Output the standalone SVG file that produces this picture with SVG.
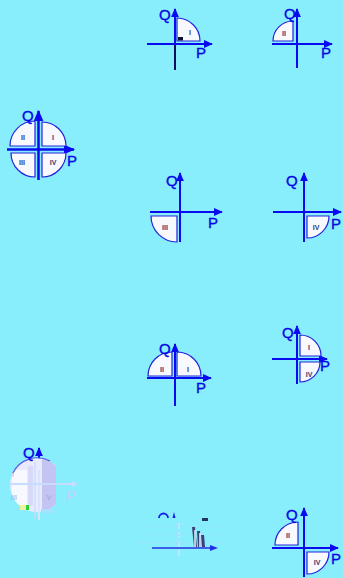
<svg xmlns="http://www.w3.org/2000/svg" width="343" height="578" viewBox="0 0 343 578">
<style>
.ax{stroke:#0a0af0;stroke-width:2;fill:none}
.q{fill:#f8f8ff;stroke:#2424dc;stroke-width:1.2}
.t{font-family:"Liberation Sans",Arial,sans-serif;font-size:15px;fill:#0606e6;stroke:#0606e6;stroke-width:0.35}
.s{font-family:"Liberation Sans",Arial,sans-serif;font-size:7px;font-weight:bold;fill:#3a3a70;text-anchor:middle}
</style>
<defs>
<marker id="ar" viewBox="0 0 10 10" refX="9" refY="5" markerWidth="4.6" markerHeight="4" orient="auto" markerUnits="strokeWidth" preserveAspectRatio="none">
<path d="M0,0 L10,5 L0,10 Z" fill="#0a0af0"/>
</marker>
<clipPath id="c8"><rect x="0" y="440" width="56" height="80"/></clipPath>
<clipPath id="c8b"><circle cx="37" cy="485" r="27"/></clipPath>
</defs>
<rect width="343" height="578" fill="#88eefc"/>

<g id="connectors">
<line class="ax" x1="175" y1="44" x2="175" y2="9" marker-end="url(#ar)"/>
<line x1="175" y1="44" x2="175" y2="70" stroke="#101060" stroke-width="2"/>
<line class="ax" x1="147" y1="44" x2="212" y2="44" marker-end="url(#ar)"/>
<line class="ax" x1="297" y1="68" x2="297" y2="9" marker-end="url(#ar)"/>
<line class="ax" x1="272" y1="44" x2="332" y2="44" marker-end="url(#ar)"/>
<line class="ax" x1="38.5" y1="180" x2="38.5" y2="111" marker-end="url(#ar)" style="stroke-width:2.5"/>
<line class="ax" x1="7" y1="149.5" x2="74" y2="149.5" marker-end="url(#ar)" style="stroke-width:2.5"/>
<line class="ax" x1="180" y1="242" x2="180" y2="173" marker-end="url(#ar)"/>
<line class="ax" x1="150" y1="212" x2="222" y2="212" marker-end="url(#ar)"/>
<line class="ax" x1="304" y1="242" x2="304" y2="173" marker-end="url(#ar)"/>
<line class="ax" x1="273" y1="212" x2="341" y2="212" marker-end="url(#ar)"/>
<line class="ax" x1="175" y1="406" x2="175" y2="344" marker-end="url(#ar)"/>
<line class="ax" x1="147" y1="378" x2="211" y2="378" marker-end="url(#ar)"/>
<line class="ax" x1="297" y1="384" x2="297" y2="326" marker-end="url(#ar)"/>
<line class="ax" x1="272" y1="359" x2="327" y2="359" marker-end="url(#ar)"/>
<line class="ax" x1="39" y1="470" x2="39" y2="448" marker-end="url(#ar)"/>
<line class="ax" x1="304" y1="577" x2="304" y2="508" marker-end="url(#ar)"/>
<line class="ax" x1="272" y1="548" x2="338" y2="548" marker-end="url(#ar)"/>
</g>

<g id="d1">
<path class="q" d="M177,41 V18 A23,23 0 0 1 200,41 Z"/>
<rect x="178" y="37" width="5" height="3.5" fill="#101030"/>
<text class="s" x="190" y="35">I</text>
<text class="t" x="159" y="20">Q</text>
<text class="t" x="196" y="58">P</text>
</g>

<g id="d2">
<path class="q" d="M293,41 H273 A20,20 0 0 1 293,21 Z"/>
<text class="s" x="284" y="36">II</text>
<text class="t" x="284" y="19">Q</text>
<text class="t" x="321" y="58">P</text>
</g>

<g id="d3">
<path class="q" d="M42,146 V122 A24,24 0 0 1 66,146 Z"/>
<path class="q" d="M35,146 H10 A25,25 0 0 1 35,121 Z"/>
<path class="q" d="M35,153 V177 A24,24 0 0 1 11,153 Z"/>
<path class="q" d="M42,153 H66 A24,24 0 0 1 42,177 Z"/>
<text class="s" x="23" y="140">II</text>
<text class="s" x="53" y="140">I</text>
<text class="s" x="22" y="165">III</text>
<text class="s" x="53" y="165">IV</text>
<text class="t" x="22" y="121">Q</text>
<text class="t" x="67" y="166">P</text>
</g>

<g id="d4">
<path class="q" d="M177,216 V242 A26,26 0 0 1 151,216 Z"/>
<text class="s" x="165" y="230">III</text>
<text class="t" x="166" y="186">Q</text>
<text class="t" x="208" y="228">P</text>
</g>

<g id="d5">
<path class="q" d="M307,216 H329 A22,22 0 0 1 307,238 Z"/>
<text class="s" x="316" y="230">IV</text>
<text class="t" x="286" y="186">Q</text>
<text class="t" x="331" y="229">P</text>
</g>

<g id="d6">
<path class="q" d="M172,376 H148 A24,24 0 0 1 172,352 Z"/>
<path class="q" d="M177,376 V352 A24,24 0 0 1 201,376 Z"/>
<text class="s" x="162" y="372">II</text>
<text class="s" x="188" y="372">I</text>
<text class="t" x="159" y="354">Q</text>
<text class="t" x="196" y="393">P</text>
</g>

<g id="d7">
<path class="q" d="M300,356 V335 A21,21 0 0 1 321,356 Z"/>
<path class="q" d="M300,362 H320 A20,20 0 0 1 300,382 Z"/>
<text class="s" x="309" y="350">I</text>
<text class="s" x="309" y="377">IV</text>
<text class="t" x="282" y="338">Q</text>
<text class="t" x="320" y="371">P</text>
</g>

<g id="d8">
<g clip-path="url(#c8)">
<g clip-path="url(#c8b)">
<rect x="8" y="456" width="60" height="60" fill="#eaeafe"/>
<rect x="42" y="456" width="16" height="60" fill="#c4c4f2"/>
<rect x="12" y="470" width="15" height="36" fill="#f8f8ff"/>
<rect x="28" y="466" width="5" height="40" fill="#d8d8f8"/>
</g>
<path d="M13,473 A27,27 0 0 1 50,461" fill="none" stroke="#5858e0" stroke-width="1.2"/>
</g>
<line x1="39" y1="470" x2="39" y2="520" stroke="#d4e6ff" stroke-width="2"/>
<line x1="35" y1="462" x2="35" y2="518" stroke="#c8dcff" stroke-width="1.5"/>
<line x1="9" y1="484" x2="72" y2="484" stroke="#c8dcff" stroke-width="2"/>
<path d="M72,481 L78,484 L72,487 Z" fill="#c8dcff"/>
<rect x="20" y="505" width="8" height="5" fill="#f0f0a0"/>
<rect x="26" y="505" width="3" height="5" fill="#30d030"/>
<rect x="41" y="509" width="13" height="4" fill="#a8e0ff"/>
<text class="s" x="14" y="500" style="fill:#a0a0d8;font-weight:normal">III</text>
<text class="s" x="49" y="500" style="fill:#a0a0d8;font-weight:normal">V</text>
<text class="s" x="13" y="477" style="fill:#a0a0d8;font-weight:normal">I</text>
<text class="t" x="23" y="458">Q</text>
<text class="t" x="66" y="501" style="fill:#c0d0ff;stroke:none">P</text>
</g>

<g id="d9" opacity="0.9">
<path d="M159,518 A4.5,4.5 0 0 1 168,518" fill="none" stroke="#0a0af0" stroke-width="1.8"/>
<path d="M172.5,518 L174,512 L175.5,518 Z" fill="#0a0af0"/>
<line x1="179" y1="523" x2="179" y2="556" stroke="#d0e8ff" stroke-width="1.5" stroke-dasharray="6 3"/>
<line x1="176" y1="523" x2="176" y2="552" stroke="#b8d8ff" stroke-width="1" stroke-dasharray="4 4"/>
<line x1="152" y1="548" x2="212" y2="548" stroke="#1a1ae0" stroke-width="1.5"/>
<path d="M210,545 L218,548 L210,551 Z" fill="#1a1ae0"/>
<line x1="137" y1="535" x2="225" y2="535" stroke="#a8d8f8" stroke-width="1" stroke-dasharray="3 5"/>
<line x1="137" y1="526" x2="225" y2="526" stroke="#a8d8f8" stroke-width="1" stroke-dasharray="2 6"/>
<line x1="137" y1="543" x2="225" y2="543" stroke="#a8d8f8" stroke-width="1" stroke-dasharray="4 4"/>
<rect x="202" y="518" width="6" height="3" fill="#202050"/>
<path d="M192,527 L195,527 L197,547 L194,547 Z" fill="#303070"/>
<path d="M197,531 L200,531 L201,547 L198,547 Z" fill="#303070"/>
<path d="M201,535 L204,535 L205,547 L202,547 Z" fill="#303070"/>
<line x1="195" y1="530" x2="195" y2="547" stroke="#f4f4ff" stroke-width="1.5"/>
<line x1="200" y1="533" x2="200" y2="547" stroke="#f4f4ff" stroke-width="1.5"/>
</g>

<g id="d10">
<path class="q" d="M298,545 H275 A23,23 0 0 1 298,522 Z"/>
<path class="q" d="M307,552 H329 A22,22 0 0 1 307,574 Z"/>
<text class="s" x="288" y="538">II</text>
<text class="s" x="317" y="565">IV</text>
<text class="t" x="286" y="520">Q</text>
<text class="t" x="331" y="564">P</text>
</g>
</svg>
